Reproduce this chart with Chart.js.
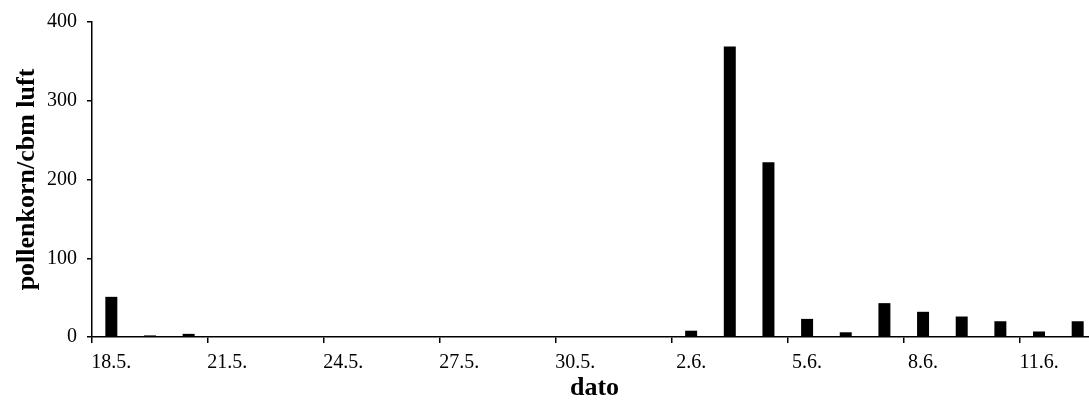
<!DOCTYPE html>
<html>
<head>
<meta charset="utf-8">
<script src="https://cdn.jsdelivr.net/npm/chart.js@4"></script>
<style>
    html, body { margin: 0; padding: 0; background: #fff; overflow: hidden; }
    #wrap { width: 1100px; height: 407px; }
</style>
</head>
<body>
<div id="wrap"><canvas id="pollenChart" width="1100" height="407"></canvas></div>
<script>
// daily dates, 18 May - 12 June
const dates = [
    '18.5.', '19.5.', '20.5.', '21.5.', '22.5.', '23.5.', '24.5.', '25.5.', '26.5.',
    '27.5.', '28.5.', '29.5.', '30.5.', '31.5.', '1.6.', '2.6.', '3.6.', '4.6.',
    '5.6.', '6.6.', '7.6.', '8.6.', '9.6.', '10.6.', '11.6.', '12.6.'
];
// pollen grains per cubic metre of air
const pollen = [
    51, 2, 4, 0, 0, 0, 0, 0, 0,
    0, 0, 0, 0, 0, 0, 8, 369, 222,
    23, 6, 43, 32, 26, 20, 7, 20
];
const yTicks = [0, 100, 200, 300, 400];

const serif = 'Liberation Serif, Times New Roman, serif';

const ctx = document.getElementById('pollenChart');
new Chart(ctx, {
    type: 'bar',
    data: {
        labels: dates,
        datasets: [{
            data: pollen,
            backgroundColor: '#000',
            borderWidth: 0,
            categoryPercentage: 1,
            barPercentage: 0.31
        }]
    },
    options: {
        responsive: false,
        animation: false,
        layout: { padding: { top: 21, right: 3, left: 0, bottom: 0 } },
        plugins: { legend: { display: false }, tooltip: { enabled: false } },
        scales: {
            x: {
                offset: true,
                grid: {
                    offset: true,
                    drawOnChartArea: false,
                    drawTicks: true,
                    tickLength: 6,
                    lineWidth: 1.5,
                    color: c => (c.index % 3 === 0 ? '#000' : 'rgba(0,0,0,0)')
                },
                border: { display: true, color: '#000', width: 1.5 },
                ticks: {
                    autoSkip: false,
                    maxRotation: 0,
                    padding: 8,
                    color: '#000',
                    font: { family: serif, size: 20 },
                    callback: (v, i) => (i % 3 === 0 ? dates[i] : '')
                },
                title: {
                    display: true,
                    text: 'dato',
                    color: '#000',
                    font: { family: serif, size: 26, weight: 'bold' },
                    padding: { top: 4, bottom: 3 }
                },
                afterFit: s => { s.height = 70; }
            },
            y: {
                min: 0,
                max: 400,
                afterBuildTicks: s => { s.ticks = yTicks.map(v => ({ value: v })); },
                grid: {
                    drawOnChartArea: false,
                    drawTicks: true,
                    tickLength: 5,
                    lineWidth: 1.5,
                    color: '#000'
                },
                border: { display: true, color: '#000', width: 1.5 },
                ticks: {
                    padding: 10,
                    color: '#000',
                    font: { family: serif, size: 20 }
                },
                title: {
                    display: true,
                    text: 'pollenkorn/cbm luft',
                    color: '#000',
                    font: { family: serif, size: 26, weight: 'bold' },
                    padding: { top: 12, bottom: 0 }
                },
                afterFit: s => { s.width = 92; }
            }
        }
    }
});
</script>
</body>
</html>
